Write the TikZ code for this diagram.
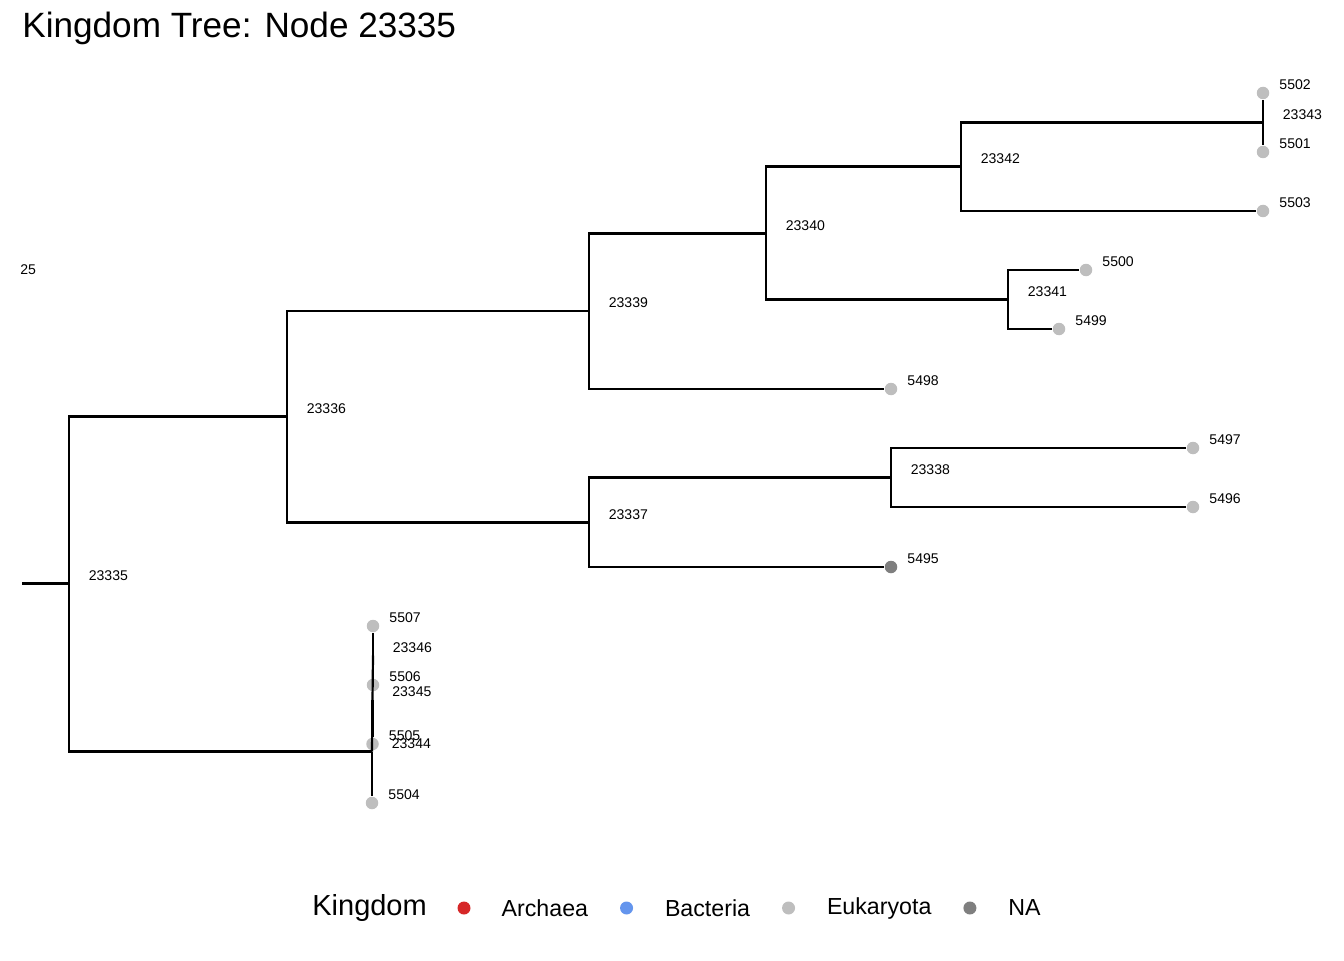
\documentclass[tikz,border=0pt]{standalone}
\usepackage{fontspec}
\setmainfont{Liberation Sans}
\usepackage{xcolor}
\usetikzlibrary{positioning}

\definecolor{archcol}{HTML}{D62728}
\definecolor{bactcol}{HTML}{6495ED}
\definecolor{eukcol}{HTML}{BEBEBE}
\definecolor{nacol}{HTML}{7F7F7F}

\begin{document}
\begin{tikzpicture}[
    node distance=0.625cm,
    edge/.style={line width=1.25pt},
    tip/.style={circle, fill=eukcol, inner sep=0pt, minimum size=0.25cm},
    tiplbl/.style={font=\fontsize{8}{9}\selectfont, inner sep=0pt, xshift=0.19cm, yshift=0.16cm},
    inlbl/.style={font=\fontsize{8}{9}\selectfont, inner sep=0pt, xshift=0.39cm, yshift=0.16cm},
    keydot/.style={circle, inner sep=0pt, minimum size=0.26cm},
    keylbl/.style={font=\fontsize{13.2}{15}\selectfont, inner sep=0pt}
]
\useasboundingbox (0,0) rectangle (26.88,-19.2);

\node[anchor=west, inner sep=0pt, font=\fontsize{20}{24}\selectfont] (title) at (0.44,-0.56) {Kingdom Tree: Node 23335};
\node[anchor=west, inner sep=0pt, font=\fontsize{8}{9}\selectfont] (cut) at (0.40,-5.40) {25};

% internal nodes
\coordinate (r0) at (0.44,-11.67);
\coordinate[label={[inlbl]right:23335}] (n23335) at (1.38,-11.67);
\coordinate[label={[inlbl]right:23336}] (n23336) at (5.74,-8.33);
\coordinate[label={[inlbl]right:23339}] (n23339) at (11.78,-6.22);
\coordinate[label={[inlbl]right:23340}] (n23340) at (15.32,-4.67);
\coordinate[label={[inlbl]right:23342}] (n23342) at (19.22,-3.33);
\coordinate[label={[inlbl]right:23343}] (n23343) at (25.26,-2.45);
\coordinate[label={[inlbl]right:23341}] (n23341) at (20.16,-5.99);
\coordinate[label={[inlbl]right:23337}] (n23337) at (11.78,-10.45);
\coordinate[label={[inlbl]right:23338}] (n23338) at (17.82,-9.55);
\coordinate[label={[inlbl]right:23344}] (n23344) at (7.44,-15.03);
\coordinate[label={[inlbl]right:23345}] (n23345) at (7.45,-14.00);
\coordinate[label={[inlbl]right:23346}] (n23346) at (7.46,-13.11);

% tips
\node[tip, label={[tiplbl]right:5502}] (l5502) at (25.26,-1.86) {};
\node[tip, label={[tiplbl]right:5501}] (l5501) at (25.26,-3.04) {};
\node[tip, label={[tiplbl]right:5503}] (l5503) at (25.26,-4.22) {};
\node[tip, label={[tiplbl]right:5500}] (l5500) at (21.72,-5.40) {};
\node[tip, label={[tiplbl]right:5499}] (l5499) at (21.18,-6.58) {};
\node[tip, label={[tiplbl]right:5498}] (l5498) at (17.82,-7.78) {};
\node[tip, label={[tiplbl]right:5497}] (l5497) at (23.86,-8.96) {};
\node[tip, label={[tiplbl]right:5496}] (l5496) at (23.86,-10.14) {};
\node[tip, fill=nacol, label={[tiplbl]right:5495}] (l5495) at (17.82,-11.34) {};
\node[tip, label={[tiplbl]right:5507}] (l5507) at (7.46,-12.52) {};
\node[tip, label={[tiplbl]right:5506}] (l5506) at (7.46,-13.70) {};
\node[tip, label={[tiplbl]right:5505}] (l5505) at (7.45,-14.88) {};
\node[tip, label={[tiplbl]right:5504}] (l5504) at (7.44,-16.06) {};

% branches
\draw[edge] (r0) -- (n23335);
\draw[edge] (n23335) |- (n23336);
\draw[edge] (n23335) |- (n23344);
\draw[edge] (n23336) |- (n23339);
\draw[edge] (n23336) |- (n23337);
\draw[edge] (n23339) |- (n23340);
\draw[edge] (n23339) |- (l5498);
\draw[edge] (n23340) |- (n23342);
\draw[edge] (n23340) |- (n23341);
\draw[edge] (n23342) |- (n23343);
\draw[edge] (n23342) |- (l5503);
\draw[edge] (n23343) -- (l5502);
\draw[edge] (n23343) -- (l5501);
\draw[edge] (n23341) |- (l5500);
\draw[edge] (n23341) |- (l5499);
\draw[edge] (n23337) |- (n23338);
\draw[edge] (n23337) |- (l5495);
\draw[edge] (n23338) |- (l5497);
\draw[edge] (n23338) |- (l5496);
\draw[edge] (n23344) -- (n23345);
\draw[edge] (n23344) -- (l5504);
\draw[edge] (n23345) -- (n23346);
\draw[edge] (n23345) -- (l5505);
\draw[edge] (n23346) -- (l5507);
\draw[edge] (n23346) -- (l5506);

% legend
\node[anchor=west, inner sep=0pt, font=\fontsize{16.5}{18}\selectfont] (keytitle) at (6.24,-18.16) {Kingdom};
\node[keydot, fill=archcol, right=0.60cm of keytitle] (kArch) {};
\node[keylbl, right=0.61cm of kArch] (lArch) {Archaea};
\node[keydot, fill=bactcol, right=of lArch] (kBact) {};
\node[keylbl, right=of kBact] (lBact) {Bacteria};
\node[keydot, fill=eukcol, right=of lBact] (kEuk) {};
\node[keylbl, right=of kEuk] (lEuk) {Eukaryota};
\node[keydot, fill=nacol, right=of lEuk] (kNA) {};
\node[keylbl, right=of kNA] (lNA) {NA};
\end{tikzpicture}
\end{document}
